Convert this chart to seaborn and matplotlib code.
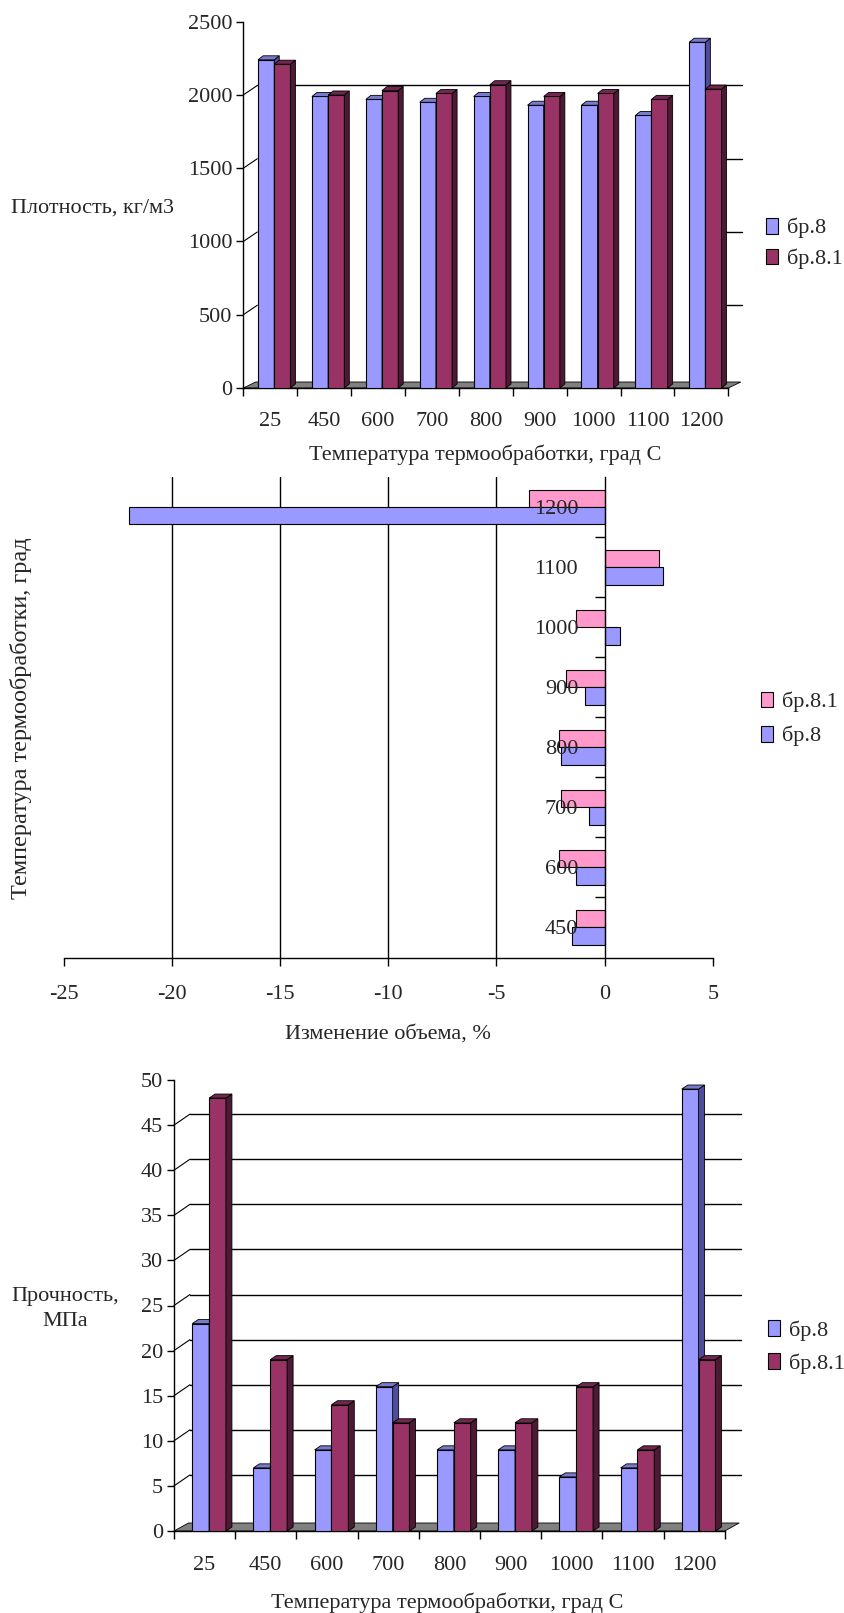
import numpy as np
import pandas as pd
import matplotlib
matplotlib.use("Agg")
import matplotlib.pyplot as plt
from matplotlib.patches import Polygon, Patch
from matplotlib.lines import Line2D
import seaborn as sns

# ---- data -------------------------------------------------------------
temps = ["25", "450", "600", "700", "800", "900", "1000", "1100", "1200"]
series = ["бр.8", "бр.8.1"]

density_br8 = [2240, 1990, 1970, 1950, 1990, 1930, 1930, 1860, 2360]
density_br81 = [2210, 2000, 2030, 2010, 2070, 1990, 2010, 1970, 2040]

vol_temps = ["450", "600", "700", "800", "900", "1000", "1100", "1200"]
volume_br8 = [-1.5, -1.3, -0.7, -2.0, -0.9, 0.7, 2.7, -22.0]
volume_br81 = [-1.3, -2.1, -2.0, -2.1, -1.8, -1.3, 2.5, -3.5]

strength_br8 = [23, 7, 9, 16, 9, 9, 6, 7, 49]
strength_br81 = [48, 19, 14, 12, 12, 12, 16, 9, 19]

density_ticks = [0, 500, 1000, 1500, 2000, 2500]
volume_ticks = [-25, -20, -15, -10, -5, 0, 5]
strength_ticks = list(range(0, 55, 5))

# ---- style ------------------------------------------------------------
sns.set_style("white")
plt.rcParams["font.family"] = ["Liberation Serif", "DejaVu Serif"]
plt.rcParams["axes.unicode_minus"] = False
FS = 16

BLUE, BLUE_SIDE, BLUE_TOP = "#9999FF", "#4D4D99", "#7A7ACC"
RED, RED_SIDE, RED_TOP = "#993366", "#4D1A33", "#732650"
PINK = "#FF99CC"
FLOOR = "#808080"

W, H = 845, 1613
fig = plt.figure(figsize=(W / 100, H / 100), dpi=100)
fig.patch.set_facecolor("white")


def frame(left, right, top, bottom):
    return [left / W, 1 - bottom / H, (right - left) / W, (bottom - top) / H]


def fig_xy(x, y):
    return (x / W, 1 - y / H)


# ---- helpers for the pseudo-3D columns ------------------------------
def to_px(ax, pts):
    return ax.transData.transform(np.asarray(pts, float))


def to_data(ax, pts):
    return ax.transData.inverted().transform(np.asarray(pts, float))


def add_poly(ax, pts_px, **kw):
    ax.add_patch(Polygon(to_data(ax, pts_px), closed=True, clip_on=False, **kw))


def add_line(ax, pts_px, **kw):
    d = to_data(ax, pts_px)
    ax.add_line(Line2D(d[:, 0], d[:, 1], clip_on=False, **kw))


def raise_columns(ax, depth, shift, shades, z0=3):
    ddx, ddy = depth
    for k, cont in enumerate(ax.containers):
        side_c, top_c = shades[k]
        for bar in cont:
            (x0, y0), (x1, y1) = to_px(ax, [(bar.get_x(), bar.get_y()),
                                            (bar.get_x() + bar.get_width(),
                                             bar.get_y() + bar.get_height())])
            x0 += shift
            x1 += shift
            bar.set_x(to_data(ax, [(x0, y0)])[0, 0])
            bar.set_zorder(z0 + k)
            add_poly(ax, [(x1, y0), (x1 + ddx, y0 + ddy), (x1 + ddx, y1 + ddy), (x1, y1)],
                     fc=side_c, ec="black", lw=0.6, zorder=z0 + k)
            add_poly(ax, [(x0, y1), (x1, y1), (x1 + ddx, y1 + ddy), (x0 + ddx, y1 + ddy)],
                     fc=top_c, ec="black", lw=0.6, zorder=z0 + k)


def add_floor(ax, depth):
    fdx, fdy = depth
    xl, xr = ax.get_xlim()
    (pl, p0), (pr, _) = to_px(ax, [(xl, 0), (xr, 0)])
    add_poly(ax, [(pl, p0), (pr, p0), (pr + fdx, p0 + fdy), (pl + fdx, p0 + fdy)],
             fc=FLOOR, ec="black", lw=0.6, zorder=1.5)


def back_grid(ax, values, depth, visible_px=None):
    gdx, gdy = depth
    xl, xr = ax.get_xlim()
    for v in values:
        (pl, pv), (pr, _) = to_px(ax, [(xl, v), (xr, v)])
        start = pl + gdx if visible_px is None else pr + gdx - visible_px
        add_line(ax, [(start, pv + gdy), (pr + gdx, pv + gdy)], color="black", lw=1.0, zorder=1)
        add_line(ax, [(pl, pv), (pl + gdx, pv + gdy)], color="black", lw=0.8, zorder=1)


def style_category_axis(ax, n, pad):
    ax.set_xticks(np.arange(-0.5, n, 1.0), minor=True)
    ax.tick_params(axis="x", which="major", length=0, pad=pad, labelsize=FS)
    ax.tick_params(axis="x", which="minor", length=6, width=1, direction="out",
                   bottom=True, color="black")
    ax.tick_params(axis="y", which="major", length=5, width=1, direction="out",
                   left=True, pad=3, labelsize=FS, color="black")
    for s in ("top", "right"):
        ax.spines[s].set_visible(False)
    for s in ("left", "bottom"):
        ax.spines[s].set_color("black")
        ax.spines[s].set_linewidth(1.0)


def place_label(axis, x, y):
    axis.set_label_coords(*fig_xy(x, y), transform=fig.transFigure)
    axis.label.set_va("center")
    axis.label.set_ha("center")


def series_legend(ax, labels, colors, x, y, spacing):
    handles = [Patch(facecolor=c, edgecolor="black", linewidth=0.8) for c in colors]
    ax.legend(handles, labels, loc="center left", bbox_to_anchor=fig_xy(x, y),
              bbox_transform=fig.transFigure, frameon=False, fontsize=FS,
              handlelength=0.56, handleheight=0.72, handletextpad=0.4,
              labelspacing=spacing, borderpad=0, borderaxespad=0)


# ---- 1: density -------------------------------------------------------
ax1 = fig.add_axes(frame(243.3, 728.3, 21.7, 388))
dens = pd.DataFrame({
    "temp": temps * 2,
    "series": [series[0]] * len(temps) + [series[1]] * len(temps),
    "value": density_br8 + density_br81,
})
sns.barplot(data=dens, x="temp", y="value", hue="series", order=temps,
            hue_order=series, palette=[BLUE, RED], saturation=1, width=0.6,
            edgecolor="black", linewidth=0.8, legend=False, ax=ax1, errorbar=None)
ax1.set_xlim(-0.5, len(temps) - 0.5)
ax1.set_ylim(density_ticks[0], density_ticks[-1])
ax1.set_yticks(density_ticks)
style_category_axis(ax1, len(temps), pad=17)
ax1.set_xlabel("Температура термообработки, град С", fontsize=FS)
place_label(ax1.xaxis, 485.5, 455)
ax1.set_ylabel("Плотность, кг/м3", fontsize=FS, rotation=0)
place_label(ax1.yaxis, 93, 208)

add_floor(ax1, (12.5, 6))
back_grid(ax1, [2000], (14, 9.5))
back_grid(ax1, [500, 1000, 1500], (14, 9.5), visible_px=16)
raise_columns(ax1, (5, 4), 4, [(BLUE_SIDE, BLUE_TOP), (RED_SIDE, RED_TOP)])
series_legend(ax1, series, [BLUE, RED], 766, 243.5, 0.45)

# ---- 2: volume change -------------------------------------------------
ax2 = fig.add_axes(frame(63.6, 712.8, 477, 957.5))
vol_order = vol_temps[::-1]
vol_series = [series[1], series[0]]
vol = pd.DataFrame({
    "temp": vol_temps * 2,
    "series": [series[0]] * len(vol_temps) + [series[1]] * len(vol_temps),
    "value": volume_br8 + volume_br81,
})
sns.barplot(data=vol, x="value", y="temp", hue="series", order=vol_order,
            hue_order=vol_series, palette=[PINK, BLUE], saturation=1, width=0.58,
            orient="h", edgecolor="black", linewidth=0.8, legend=False, ax=ax2,
            errorbar=None)
for bar in ax2.patches:
    bar.set_zorder(2)
ax2.set_xlim(volume_ticks[0], volume_ticks[-1])
ax2.set_ylim(len(vol_order) - 0.5, -0.5)
ax2.set_xticks(volume_ticks)
for v in volume_ticks[1:-2]:
    ax2.axvline(v, color="black", lw=1.0, zorder=0.5)
ax2.spines["left"].set_position(("data", 0))
for s in ("top", "right"):
    ax2.spines[s].set_visible(False)
for s in ("left", "bottom"):
    ax2.spines[s].set_color("black")
    ax2.spines[s].set_linewidth(1.0)
    ax2.spines[s].set_zorder(4)
ax2.yaxis.set_zorder(5)
ax2.set_yticks(np.arange(0.5, len(vol_order) - 1, 1.0), minor=True)
ax2.tick_params(axis="y", which="major", length=0, pad=19, labelsize=FS)
ax2.tick_params(axis="y", which="minor", length=7, width=1, direction="out",
                left=True, color="black")
ax2.tick_params(axis="x", which="major", length=6, width=1, direction="out",
                bottom=True, pad=14, labelsize=FS, color="black")
ax2.set_xlabel("Изменение объема, %", fontsize=FS)
place_label(ax2.xaxis, 388, 1034)
ax2.set_ylabel("Температура термообработки, град", fontsize=FS + 1.5, rotation=90)
place_label(ax2.yaxis, 21.5, 718)
series_legend(ax2, vol_series, [PINK, BLUE], 761, 719, 0.6)

# ---- 3: strength ------------------------------------------------------
ax3 = fig.add_axes(frame(174, 724.7, 1080, 1531))
strg = pd.DataFrame({
    "temp": temps * 2,
    "series": [series[0]] * len(temps) + [series[1]] * len(temps),
    "value": strength_br8 + strength_br81,
})
sns.barplot(data=strg, x="temp", y="value", hue="series", order=temps,
            hue_order=series, palette=[BLUE, RED], saturation=1, width=0.55,
            edgecolor="black", linewidth=0.8, legend=False, ax=ax3, errorbar=None)
ax3.set_xlim(-0.5, len(temps) - 0.5)
ax3.set_ylim(strength_ticks[0], strength_ticks[-1])
ax3.set_yticks(strength_ticks)
style_category_axis(ax3, len(temps), pad=18)
ax3.set_xlabel("Температура термообработки, град С", fontsize=FS)
place_label(ax3.xaxis, 447.5, 1603)
ax3.set_ylabel("Прочность,\nМПа", fontsize=FS, rotation=0, linespacing=1.45)
place_label(ax3.yaxis, 65, 1309)

add_floor(ax3, (14.5, 8))
back_grid(ax3, strength_ticks[1:-1], (16, 11))
raise_columns(ax3, (6, 4), 4.5, [(BLUE_SIDE, BLUE_TOP), (RED_SIDE, RED_TOP)])
series_legend(ax3, series, [BLUE, RED], 768, 1347, 0.55)

fig.savefig("out.png", dpi=100, facecolor="white")
